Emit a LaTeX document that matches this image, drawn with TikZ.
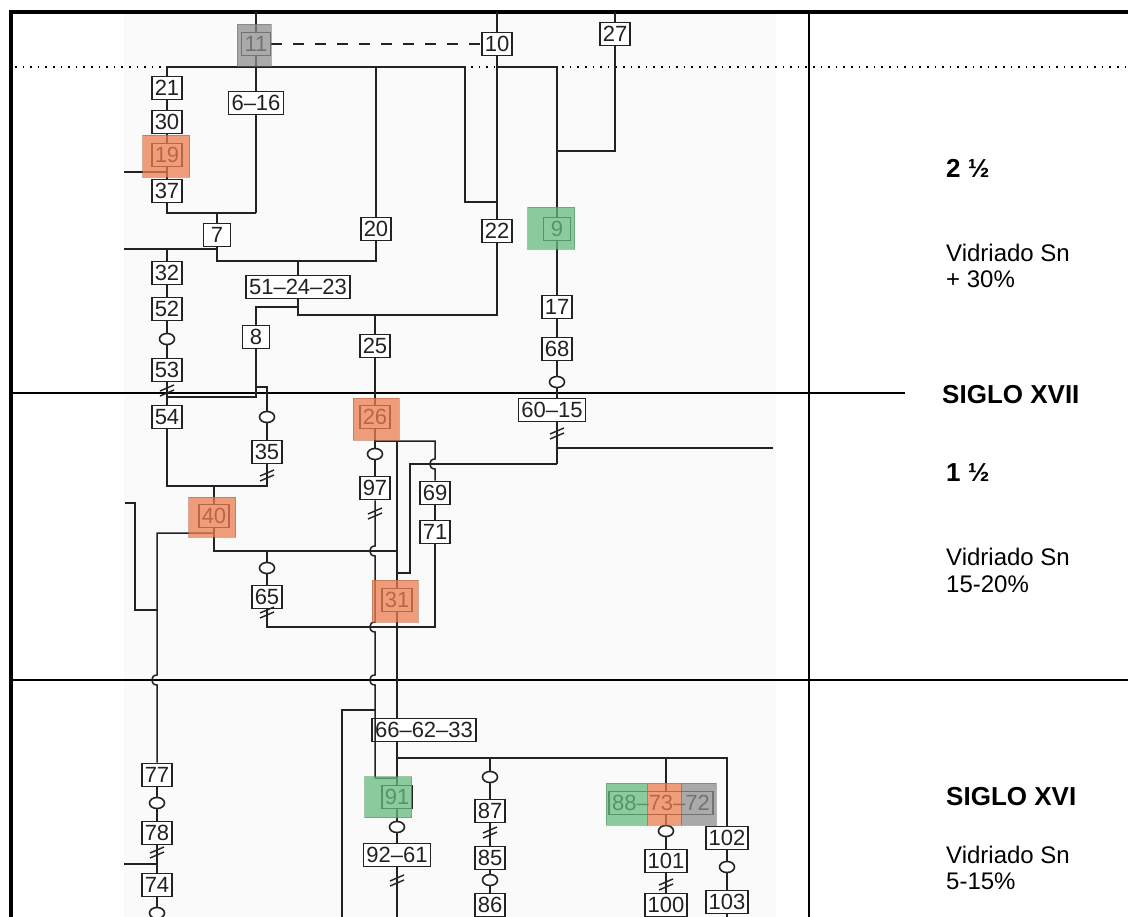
\documentclass[tikz,border=0pt]{standalone}
\usepackage{fontspec}
\setmainfont{Liberation Sans}
\usepackage{tikz}
\usetikzlibrary{positioning,calc,shapes.geometric}
\definecolor{ink}{HTML}{222222}
\definecolor{scan}{HTML}{FAFAFA}
\definecolor{hlred}{RGB}{235,125,80}
\definecolor{hlgreen}{RGB}{101,188,128}
\definecolor{hlgray}{RGB}{142,142,142}
\tikzset{
  ue/.style={draw=ink,fill=white,line width=1.8pt,inner xsep=3pt,inner ysep=0pt,
    minimum width=27pt,minimum height=23pt,font=\fontsize{22}{22}\selectfont,text=ink},
  ov/.style={ellipse,draw=ink,fill=white,line width=1.6pt,minimum width=15pt,
    minimum height=11pt,inner sep=0pt},
  ln/.style={draw=ink,line width=1.5pt},
  hl/.style={fill=#1,fill opacity=0.75,draw=#1!75!black,draw opacity=0.5,line width=0.8pt,
    inner sep=0pt},
  hl/.default=hlred,
  side/.style={anchor=base west,inner sep=0pt,text=black,font=\fontsize{24}{24}\selectfont},
  era/.style={side,font=\fontsize{26}{26}\selectfont\bfseries},
  brk/.pic={\draw[ink,line width=1.4pt] (-7,1) -- (7,-5) (-7,6) -- (7,0);},
}
\begin{document}
\begin{tikzpicture}[x=1pt,y=-1pt]
  \useasboundingbox (0,0) rectangle (1128,917);
  \clip (0,0) rectangle (1128,917);
  \fill[scan] (124,12) rectangle (776,917);
  \coordinate (top) at (0,12);
  \coordinate (bot) at (0,917);
  % frame and periods
  \draw[line width=4pt] (11,917) -- (11,12) -- (1128,12);
  \draw[line width=1.2pt] (809,12) -- (809,917);
  \draw[line width=1.6pt,dash pattern=on 1.6pt off 6pt] (15,67) -- (1128,67);
  \draw[line width=1.8pt] (11,393) -- (905,393);
  \draw[line width=1.8pt] (11,680) -- (1128,680);

  \node[ue] (n11) at (256,44) {11};
  \node[ue] (n10) at (497,44) {10};
  \node[ue] (n27) at (615,34) {27};
  \node[ue] (n21) at (167,88) {21};
  \node[ue] (n30) at (167,122) {30};
  \node[ue] (n19) at (167,155) {19};
  \node[ue] (n37) at (167,191) {37};
  \node[ue] (n616) at (256,103) {6–16};
  \node[ue] (n7) at (217,235) {7};
  \node[ue] (n20) at (376,229) {20};
  \node[ue] (n22) at (497,231) {22};
  \node[ue] (n9) at (557,229) {9};
  \node[ue] (n32) at (167,273) {32};
  \node[ue] (n52) at (167,309) {52};
  \node[ov] (o52) at (167,339) {};
  \node[ue] (n53) at (167,370) {53};
  \node[ue] (n54) at (167,417) {54};
  \node[ue] (n512423) at (298,287) {51–24–23};
  \node[ue] (n8) at (256,337) {8};
  \node[ue] (n25) at (375,346) {25};
  \node[ue] (n17) at (557,307) {17};
  \node[ue] (n68) at (557,349) {68};
  \node[ov] (o68) at (557,382) {};
  \node[ue] (n6015) at (552,410) {60–15};
  \node[ue] (n26) at (375,417) {26};
  \node[ov] (o26) at (375,454) {};
  \node[ue] (n97) at (375,488) {97};
  \node[ov] (o35) at (267,417) {};
  \node[ue] (n35) at (267,452) {35};
  \node[ue] (n40) at (214,516) {40};
  \node[ue] (n69) at (435,493) {69};
  \node[ue] (n71) at (435,532) {71};
  \node[ov] (o65) at (267,568) {};
  \node[ue] (n65) at (267,597) {65};
  \node[ue] (n31) at (397,600) {31};
  \node[ue] (n666233) at (424,730) {66–62–33};
  \node[ue] (n91) at (397,797) {91};
  \node[ov] (o91) at (397,827) {};
  \node[ue] (n9261) at (397,855) {92–61};
  \node[ov] (o87) at (490,777) {};
  \node[ue] (n87) at (490,811) {87};
  \node[ue] (n85) at (490,858) {85};
  \node[ov] (o85) at (490,880) {};
  \node[ue] (n86) at (490,905) {86};
  \node[ue] (n887372) at (661,803) {88–73–72};
  \node[ov] (o73) at (666,831) {};
  \node[ue] (n101) at (666,861) {101};
  \node[ue] (n100) at (666,905) {100};
  \node[ue] (n102) at (727,838) {102};
  \node[ov] (o102) at (727,867) {};
  \node[ue] (n103) at (727,902) {103};
  \node[ue] (n77) at (157,775) {77};
  \node[ov] (o77) at (157,803) {};
  \node[ue] (n78) at (157,833) {78};
  \node[ue] (n74) at (157,885) {74};
  \node[ov] (o74) at (157,913) {};

  \coordinate (k1) at (465,67);
  \coordinate (k2) at (465,202);
  \coordinate (k3) at (557,67);
  \coordinate (k4) at (557,151);
  \coordinate (k5) at (256,213);
  \coordinate (k6) at (217,261);
  \coordinate (k7) at (256,397);
  \coordinate (k8) at (256,387);
  \coordinate (k9) at (214,486);
  \coordinate (k11) at (298,307);
  \coordinate (k12) at (298,315);
  \coordinate (k13) at (557,448);
  \coordinate (k14) at (557,464);
  \coordinate (k15) at (375,710);
  \coordinate (k16) at (375,778);
  \coordinate (k17) at (375,441);
  \coordinate (k18) at (435,627);
  \coordinate (k20) at (410,464);
  \coordinate (k21) at (410,573);
  \coordinate (k22) at (267,551);
  \coordinate (k23) at (157,533);
  \coordinate (k24) at (135,610);
  \coordinate (k25) at (727,758);
  \coordinate (e1) at (124,172);
  \coordinate (e2) at (124,249);
  \coordinate (e3) at (773,448);
  \coordinate (e4) at (342,710);
  \coordinate (e5) at (125,503);
  \coordinate (e6) at (124,864);

  % connectors
  \draw[ln] (n11 |- top) -- (n11) -- (n616) -- (k5);
  \draw[ln,dash pattern=on 11pt off 11pt] (n11) -- (n10);
  \draw[ln] (n10 |- top) -- (n10) -- (n22);
  \draw[ln] (n27 |- top) -- (n27) |- (k4);
  \draw[ln] (n21.north) |- (k1) -- (k2) -- (k2 -| n22);
  \draw[ln] (n20) -- (n20 |- k1);
  \draw[ln] (n10 |- k1) -- (k3) -- (n9);
  \draw[ln] (n21) -- (n30) -- (n19) -- (n37);
  \draw[ln] (e1) -- (e1 -| n19);
  \draw[ln] (n37) |- (k5);
  \draw[ln] (n7) -- (n7 |- k5);
  \draw[ln] (e2) -- (e2 -| n7);
  \draw[ln] (n7) -- (k6) -| (n20);
  \draw[ln] (n32) -- (n32 |- e2);
  \draw[ln] (n512423) -- (n512423 |- k6);
  \draw[ln] (n32) -- (n52) -- (o52) -- (n53) -- (n54);
  \draw[ln] (n512423) -- (k11) -| (n8);
  \draw[ln] (k11) -- (k12) -| (n22);
  \draw[ln] (n25) -- (n25 |- k12);
  \draw[ln] (n8) -- (k7) -- (k7 -| n54);
  \draw[ln] (k8) -| (o35);
  \draw[ln] (o35) -- (n35);
  \draw[ln] (n54) |- (k9) -| (n35);
  \draw[ln] (k9) -- (n40);
  \draw[ln] (n9) -- (n17) -- (n68) -- (o68) -- (o68 |- n6015.north);
  \draw[ln] (o68 |- n6015.south) -- (k14);
  \draw[ln] (k13) -- (e3);
  \draw[ln] (k14) -- (k20) -- (k21) -- (k21 -| n31);
  \draw[ln] (n25) -- (n26) -- (o26) -- (n97);
  \draw[ln] (n97) -- (375,546) .. controls (368,546) and (368,556) .. (375,556)
    -- (375,622) .. controls (368,622) and (368,632) .. (375,632)
    -- (375,675) .. controls (368,675) and (368,685) .. (375,685) -- (k16) -- (k16 -| n91);
  \draw[ln] (k15) -- (e4) -- (e4 |- bot);
  \draw[ln] (k17) -- (k17 -| n69) -- (435,459) .. controls (428,459) and (428,469) .. (435,469) -- (n69);
  \draw[ln] (n31 |- k17) -- (n31);
  \draw[ln] (n69) -- (n71) |- (n65 |- k18) -- (n65);
  \draw[ln] (n40) |- (k22) -- (k22 -| n31);
  \draw[ln] (k22) -- (o65) -- (n65);
  \draw[ln] (n40 |- k23) -- (k23) -- (157,675) .. controls (150,675) and (150,685) .. (157,685) -- (n77);
  \draw[ln] (e5) -- (e5 -| k24) -- (k24) -- (k24 -| n77);
  \draw[ln] (n31) -- (n31 |- n666233.north);
  \draw[ln] (n31 |- n666233.south) -- (n91) -- (o91) -- (n9261) -- (n9261 |- bot);
  \draw[ln] (n91 |- k25) -- (k25) -- (n102) -- (o102) -- (n103) -- (n103 |- bot);
  \draw[ln] (o87 |- k25) -- (o87) -- (n87) -- (n85) -- (o85) -- (n86);
  \draw[ln] (o73 |- k25) -- (o73 |- n887372.north);
  \draw[ln] (o73 |- n887372.south) -- (o73) -- (n101) -- (n100);
  \draw[ln] (n77) -- (o77) -- (n78) -- (n74) -- (o74);
  \draw[ln] (e6) -- (e6 -| n78);

  \pic at (167,390) {brk};
  \pic at (557,433) {brk};
  \pic at (375,513) {brk};
  \pic at (267,475) {brk};
  \pic at (267,612) {brk};
  \pic at (397,880) {brk};
  \pic at (490,832) {brk};
  \pic at (666,884) {brk};
  \pic at (157,852) {brk};

  % highlights
  \node[hl=hlgray,minimum width=34pt,minimum height=42pt] (h11) at (254,45) {};
  \node[hl,minimum width=47pt,minimum height=42pt] (h19) at (166,156) {};
  \node[hl=hlgreen,minimum width=47pt,minimum height=42pt] (h9) at (551,228) {};
  \node[hl,minimum width=46pt,minimum height=42pt] (h26) at (376,419) {};
  \node[hl,minimum width=47pt,minimum height=40pt] (h40) at (212,517) {};
  \node[hl,minimum width=46pt,minimum height=42pt] (h31) at (395,601) {};
  \node[hl=hlgreen,minimum width=47pt,minimum height=41pt] (h91) at (388,797) {};
  \node[hl=hlgreen,minimum width=41pt,minimum height=42pt] (h88) at (626.5,804) {};
  \node[hl,minimum width=34pt,minimum height=42pt] (h73) at (664,804) {};
  \node[hl=hlgray,minimum width=35pt,minimum height=42pt] (h72) at (698.5,804) {};

  \node[era] (r1) at (946,178) {2 ½};
  \node[side] (r2) at (946,262) {Vidriado Sn};
  \node[side] (r3) at (946,288) {+ 30\%};
  \node[era] (r4) at (942,403) {SIGLO XVII};
  \node[era] (r5) at (946,482) {1 ½};
  \node[side] (r6) at (946,565) {Vidriado Sn};
  \node[side] (r7) at (946,592) {15-20\%};
  \node[era] (r8) at (946,805) {SIGLO XVI};
  \node[side] (r9) at (946,863) {Vidriado Sn};
  \node[side] (r10) at (946,889) {5-15\%};
\end{tikzpicture}
\end{document}
